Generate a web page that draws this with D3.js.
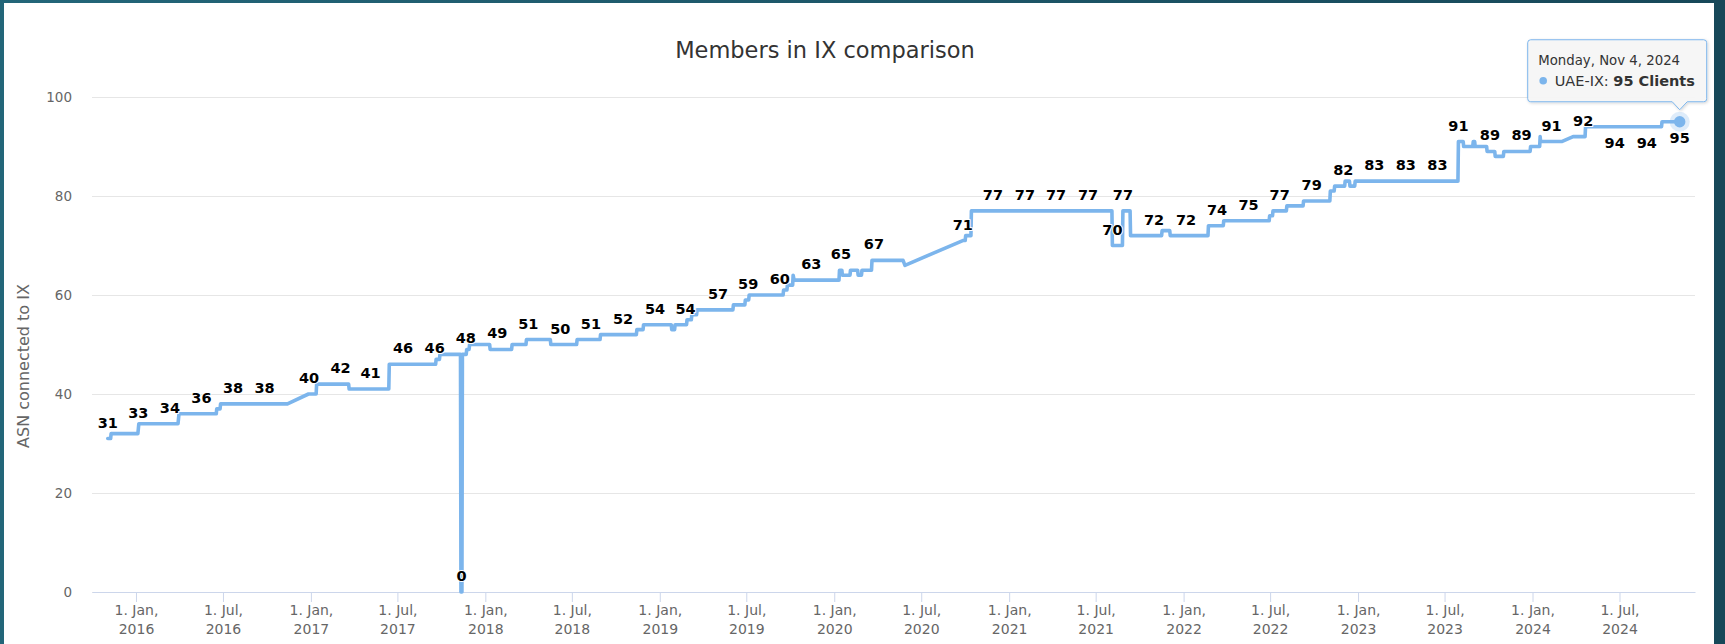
<!DOCTYPE html>
<html>
<head>
<meta charset="utf-8">
<script src="https://cdn.jsdelivr.net/npm/d3@7"></script>
<style>
  body { margin: 0; background: #1f5a6c; }
  text { font-family: "DejaVu Sans", sans-serif; }
</style>
</head>
<body>
<div id="chart"></div>
<script>

// UAE-IX member count, one entry per change
var uaeIxSteps = [
    ["2015-11-03",31],["2015-11-09",31],["2015-11-10",32],["2016-01-05",32],["2016-01-06",33],["2016-01-07",34],
    ["2016-03-29",34],["2016-03-30",35],["2016-03-31",36],
    ["2016-06-17",36],["2016-06-18",37],["2016-06-25",37],["2016-06-26",38],
    ["2016-11-13",38],["2016-12-27",40],["2017-01-12",40],["2017-01-13",42],
    ["2017-03-21",42],["2017-03-22",41],
    ["2017-06-13",41],["2017-06-14",46],
    ["2017-09-19",46],["2017-09-20",47],["2017-09-27",47],["2017-09-28",48],
    ["2017-11-10",48],["2017-11-11",0],["2017-11-13",0],["2017-11-14",48],
    ["2017-11-22",48],["2017-11-23",49],["2017-11-28",49],["2017-11-29",50],
    ["2018-01-10",50],["2018-01-11",49],
    ["2018-02-25",49],["2018-02-26",50],
    ["2018-03-27",50],["2018-03-28",51],
    ["2018-05-17",51],["2018-05-18",50],
    ["2018-07-11",50],["2018-07-12",51],
    ["2018-08-29",51],["2018-08-30",52],
    ["2018-11-13",52],["2018-11-14",53],["2018-11-27",53],["2018-11-28",54],
    ["2019-01-25",54],["2019-01-26",53],["2019-02-01",53],["2019-02-02",54],
    ["2019-02-26",54],["2019-02-27",55],["2019-03-08",55],["2019-03-09",56],["2019-03-19",56],["2019-03-20",57],
    ["2019-06-03",57],["2019-06-04",58],["2019-06-28",58],["2019-06-29",59],["2019-07-06",59],["2019-07-07",60],
    ["2019-09-16",60],["2019-09-17",61],["2019-09-24",61],["2019-09-25",62],["2019-10-06",62],["2019-10-07",64],["2019-10-09",63],
    ["2020-01-11",63],["2020-01-12",65],["2020-01-17",65],["2020-01-18",64],["2020-02-03",64],["2020-02-04",65],
    ["2020-02-19",65],["2020-02-20",64],["2020-02-27",64],["2020-02-28",65],
    ["2020-03-19",65],["2020-03-20",67],
    ["2020-05-24",67],["2020-05-28",66],
    ["2020-09-26",71],["2020-10-01",71],["2020-10-02",72],["2020-10-13",72],["2020-10-14",77],
    ["2021-08-04",77],["2021-08-05",70],["2021-08-26",70],["2021-08-27",77],
    ["2021-09-11",77],["2021-09-12",72],
    ["2021-11-16",72],["2021-11-17",73],["2021-12-03",73],["2021-12-04",72],
    ["2022-02-21",72],["2022-02-22",74],
    ["2022-03-25",74],["2022-03-26",75],
    ["2022-06-29",75],["2022-06-30",76],["2022-07-06",76],["2022-07-07",77],
    ["2022-08-04",77],["2022-08-05",78],
    ["2022-09-08",78],["2022-09-09",79],
    ["2022-11-03",79],["2022-11-04",81],["2022-11-12",81],["2022-11-13",82],
    ["2022-12-04",82],["2022-12-05",83],["2022-12-14",83],["2022-12-15",82],["2022-12-25",82],["2022-12-26",83],
    ["2023-07-29",83],["2023-07-30",91],["2023-08-09",91],["2023-08-10",90],
    ["2023-08-29",90],["2023-08-30",91],["2023-09-02",91],["2023-09-03",90],
    ["2023-09-27",90],["2023-09-28",89],["2023-10-14",89],["2023-10-15",88],["2023-11-01",88],["2023-11-02",89],
    ["2023-12-27",89],["2023-12-28",90],["2024-01-16",90],["2024-01-17",92],["2024-01-18",91],
    ["2024-03-02",91],["2024-03-26",92],
    ["2024-04-20",92],["2024-04-21",94],
    ["2024-09-27",94],["2024-09-28",95],["2024-11-04",95]
];

// points that carry a visible data label
var labelDates = ["2015-11-03","2016-01-06","2016-03-12","2016-05-17","2016-07-22","2016-09-26","2016-12-28",
    "2017-03-04","2017-05-06","2017-07-13","2017-09-17","2017-11-12","2017-11-21","2018-01-26","2018-04-01",
    "2018-06-07","2018-08-10","2018-10-16","2018-12-22","2019-02-24","2019-05-03","2019-07-05","2019-09-09",
    "2019-11-14","2020-01-15","2020-03-24","2020-09-26","2020-11-28","2021-02-03","2021-04-09","2021-06-15",
    "2021-08-05","2021-08-27","2021-10-31","2022-01-06","2022-03-12","2022-05-17","2022-07-21","2022-09-26",
    "2022-12-01","2023-02-04","2023-04-11","2023-06-16","2023-07-30","2023-10-04","2023-12-09","2024-02-10",
    "2024-04-16","2024-06-21","2024-08-27","2024-11-04"];
var labelValues = [31,33,34,36,38,38,40,
    42,41,46,46,0,48,49,51,
    50,51,52,54,54,57,59,60,
    63,65,67,71,77,77,77,77,
    70,77,72,72,74,75,77,79,
    82,83,83,83,91,89,89,91,
    92,94,94,95];

var yTicks = [0, 20, 40, 60, 80, 100];
var xTickDates = ["2016-01-01","2016-07-01","2017-01-01","2017-07-01","2018-01-01","2018-07-01",
    "2019-01-01","2019-07-01","2020-01-01","2020-07-01","2021-01-01","2021-07-01",
    "2022-01-01","2022-07-01","2023-01-01","2023-07-01","2024-01-01","2024-07-01"];
var xDomain = ["2015-10-01", "2024-12-06"];

var chartTitle = "Members in IX comparison";
var yTitle = "ASN connected to IX";
var seriesName = "UAE-IX";
var tooltipHeader = "Monday, Nov 4, 2024";

var parseDate = d3.utcParse("%Y-%m-%d");
var lineColor = "#7cb5ec";

var margin = { top: 97, right: 30, bottom: 52, left: 92 };
var width = 1725 - margin.left - margin.right,
    height = 644 - margin.top - margin.bottom;

var root = d3.select("#chart").append("svg")
    .attr("width", 1725)
    .attr("height", 644);

// teal frame + white panel
var grad = root.append("defs").append("linearGradient").attr("id", "frame");
grad.append("stop").attr("offset", "0%").attr("stop-color", "#236679");
grad.append("stop").attr("offset", "100%").attr("stop-color", "#174859");
root.append("rect").attr("width", 1725).attr("height", 644).attr("fill", "url(#frame)");
root.append("rect").attr("x", 4).attr("y", 3).attr("width", 1710).attr("height", 641).attr("fill", "#fff");

var shadow = root.select("defs").append("filter").attr("id", "shadow")
    .attr("x", "-10%").attr("y", "-20%").attr("width", "130%").attr("height", "150%");
shadow.append("feDropShadow").attr("dx", 1).attr("dy", 1).attr("stdDeviation", 1.5)
    .attr("flood-color", "#000").attr("flood-opacity", 0.18);

var svg = root.append("g")
    .attr("transform", "translate(" + margin.left + "," + margin.top + ")");

// scales
var x = d3.scaleUtc()
    .domain(xDomain.map(parseDate))
    .range([0, width]);

var y = d3.scaleLinear()
    .domain([0, 100])
    .range([height, 0]);

// y axis with grid
var yAxis = d3.axisLeft(y)
    .tickValues(yTicks)
    .tickSize(-width)
    .tickPadding(20);

var yg = svg.append("g").attr("class", "y-axis").call(yAxis);
yg.select(".domain").remove();
yg.selectAll(".tick line").attr("stroke", "#e6e6e6");
yg.selectAll(".tick text")
    .attr("fill", "#666")
    .style("font-size", "13.5px")
    .attr("dy", "0.36em");

// x axis
var xAxis = d3.axisBottom(x)
    .tickValues(xTickDates.map(parseDate))
    .tickSize(10)
    .tickSizeOuter(0);

var xg = svg.append("g")
    .attr("class", "x-axis")
    .attr("transform", "translate(0," + height + ")")
    .call(xAxis);
xg.select(".domain").attr("stroke", "#ccd6eb");
xg.selectAll(".tick line").attr("stroke", "#ccd6eb");
xg.selectAll(".tick text").each(function(d) {
    var t = d3.select(this).text(null).attr("y", null).attr("dy", null)
        .attr("fill", "#666").style("font-size", "14px");
    t.append("tspan").attr("x", 0).attr("y", 23).text("1. " + d3.utcFormat("%b")(d) + ",");
    t.append("tspan").attr("x", 0).attr("y", 42).text(d3.utcFormat("%Y")(d));
});

// titles
root.append("text")
    .attr("x", 825).attr("y", 58)
    .attr("text-anchor", "middle")
    .attr("fill", "#333")
    .style("font-size", "22.5px")
    .text(chartTitle);

root.append("text")
    .attr("transform", "translate(29,366) rotate(-90)")
    .attr("text-anchor", "middle")
    .attr("fill", "#666")
    .style("font-size", "16px")
    .text(yTitle);

// series line
var points = uaeIxSteps.map(function(d) { return { date: parseDate(d[0]), value: d[1] }; });

var line = d3.line()
    .x(function(d) { return x(d.date); })
    .y(function(d) { return y(d.value); });

svg.append("path")
    .datum(points)
    .attr("fill", "none")
    .attr("stroke", lineColor)
    .attr("stroke-width", 3.6)
    .attr("stroke-linejoin", "round")
    .attr("stroke-linecap", "round")
    .attr("d", line);

// data labels (flip below when they would leave the plot)
var labels = labelDates.map(function(d, i) { return { date: parseDate(d), value: labelValues[i] }; });

svg.selectAll(".dlabel")
    .data(labels)
    .enter().append("text")
    .attr("class", "dlabel")
    .attr("x", function(d) { return x(d.date); })
    .attr("y", function(d) {
        var py = y(d.value);
        return (py - 30 < 0) ? py + 21 : py - 11;
    })
    .attr("text-anchor", "middle")
    .style("font-size", "14.5px")
    .style("font-weight", "bold")
    .attr("fill", "#000")
    .attr("stroke", "#fff")
    .attr("stroke-width", 2)
    .attr("stroke-linejoin", "round")
    .style("paint-order", "stroke")
    .text(function(d) { return d.value; });

// hovered point + tooltip
var last = points[points.length - 1];
var px = x(last.date), py = y(last.value);

svg.append("circle").attr("cx", px).attr("cy", py).attr("r", 10)
    .attr("fill", lineColor).attr("fill-opacity", 0.25);
svg.append("circle").attr("cx", px).attr("cy", py).attr("r", 5.7)
    .attr("fill", lineColor);

var boxW = 179, boxH = 62;
var bx = px + 27 - boxW, by = py - 20 - boxH;
var tip = svg.append("g").attr("transform", "translate(" + bx + "," + by + ")");

var ax = px - bx;
tip.append("path")
    .attr("d", "M3,0 H" + (boxW - 3) + " Q" + boxW + ",0 " + boxW + ",3 V" + (boxH - 3) +
        " Q" + boxW + "," + boxH + " " + (boxW - 3) + "," + boxH +
        " H" + (ax + 7.5) + " L" + ax + "," + (boxH + 8) + " L" + (ax - 7.5) + "," + boxH +
        " H3 Q0," + boxH + " 0," + (boxH - 3) + " V3 Q0,0 3,0 Z")
    .attr("fill", "rgba(247,247,247,0.92)")
    .attr("stroke", lineColor)
    .attr("stroke-width", 1)
    .attr("filter", "url(#shadow)");

tip.append("text")
    .attr("x", 10.5).attr("y", 25)
    .attr("fill", "#333")
    .style("font-size", "13.3px")
    .text(tooltipHeader);

tip.append("circle").attr("cx", 15.5).attr("cy", 41).attr("r", 3.8).attr("fill", lineColor);

var t2 = tip.append("text")
    .attr("x", 27).attr("y", 46)
    .attr("fill", "#333")
    .style("font-size", "14.5px");
t2.append("tspan").text(seriesName + ": ");
t2.append("tspan").style("font-weight", "bold").text(last.value + " Clients");

</script>
</body>
</html>
